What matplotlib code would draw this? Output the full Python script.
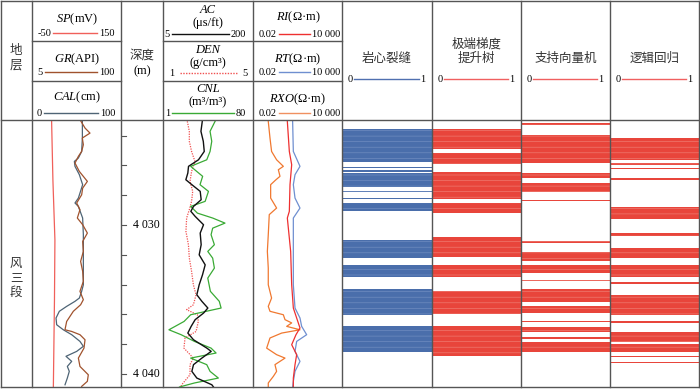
import matplotlib
matplotlib.use('Agg')
import matplotlib.pyplot as plt
import numpy as np

plt.rcParams['font.family'] = ['Liberation Serif', 'Noto Sans CJK SC']
plt.rcParams['mathtext.fontset'] = 'custom'
plt.rcParams['mathtext.rm'] = 'Liberation Serif'
plt.rcParams['mathtext.it'] = 'Liberation Serif:italic'
plt.rcParams['hatch.linewidth'] = 0.5

# ---- data ----
top_depth = 4022.95
bot_depth = 4040.87
depth_ticks = [4024, 4026, 4028, 4030, 4032, 4034, 4036, 4038, 4040]
depth_labels = {4030: '4 030', 4040: '4 040'}

sp_depth = [4022.95, 4027.0, 4031.0, 4035.0, 4040.87]
sp = [-6.0, -3.0, 1.5, 0.5, -2.0]

gr_depth = [4023.04, 4023.49, 4023.83, 4024.16, 4024.61, 4025.06, 4025.39, 4025.84, 4026.40,
            4027.07, 4027.52, 4027.97, 4028.52, 4028.97, 4029.53, 4029.98, 4030.54, 4031.10,
            4031.77, 4032.44, 4033.11, 4033.78, 4034.45, 4035.01, 4035.35, 4035.79, 4036.47,
            4037.03, 4037.14, 4037.36, 4037.70, 4038.26, 4038.93, 4039.49, 4040.05, 4040.49, 4040.83]
gr = [57.3, 61.6, 66.9, 58.7, 59.8, 58.0, 54.5, 50.9, 55.5,
      64.1, 59.1, 58.0, 52.7, 56.2, 53.4, 59.1, 64.1, 59.1,
      59.8, 56.9, 59.1, 59.8, 56.2, 59.8, 56.9, 49.1, 42.0,
      40.2, 47.3, 56.2, 61.6, 60.5, 54.5, 56.2, 65.1, 64.1, 58.0]

cal_depth = [4023.04, 4024.16, 4025.06, 4025.50, 4025.73, 4026.06, 4026.62, 4027.29, 4028.19,
             4028.52, 4028.75, 4029.53, 4030.65, 4031.77, 4032.89, 4034.01, 4034.45, 4034.90,
             4035.12, 4035.46, 4035.79, 4036.24, 4036.69, 4037.03, 4037.36, 4037.81, 4038.14,
             4038.48, 4038.81, 4039.15, 4039.49, 4039.82, 4040.27, 4040.72]
cal = [56.6, 56.6, 55.8, 52.1, 47.6, 48.3, 53.2, 56.9, 52.1,
       48.3, 52.1, 56.9, 57.7, 57.7, 57.7, 57.7, 55.8, 53.2,
       48.3, 38.9, 30.7, 27.0, 27.7, 35.2, 44.6, 53.9, 57.7,
       50.2, 38.2, 44.6, 39.7, 41.9, 39.7, 37.1]

ac_depth = [4023.04, 4023.71, 4024.38, 4025.06, 4025.62, 4026.06, 4026.51, 4026.96, 4027.29,
            4027.74, 4028.30, 4028.75, 4029.08, 4029.42, 4029.98, 4030.54, 4031.32, 4032.00,
            4032.67, 4033.34, 4034.01, 4034.68, 4035.12, 4035.57, 4035.91, 4036.35, 4036.80,
            4037.25, 4037.70, 4038.26, 4038.48, 4038.93, 4039.37, 4039.82, 4040.27, 4040.72, 4040.87]
ac = [90.1, 87.2, 92.3, 94.4, 81.9, 60.3, 58.8, 54.5, 67.5,
      85.6, 87.7, 71.1, 65.3, 74.7, 92.8, 85.6, 87.7, 83.4, 96.4,
      90.6, 83.4, 78.3, 89.2, 102.2, 92.8, 74.7, 66.0, 58.8,
      71.1, 100.0, 109.4, 89.2, 71.1, 67.5, 78.3, 110.8, 114.4]

den_depth = [4023.04, 4023.71, 4024.38, 4025.06, 4025.73, 4026.40, 4027.07, 4027.74, 4028.41,
             4028.97, 4029.53, 4030.43, 4031.32, 4032.22, 4033.11, 4034.01, 4034.68, 4035.35,
             4035.68, 4036.02, 4036.47, 4037.14, 4037.58, 4038.26, 4038.93, 4039.37, 4040.05,
             4040.72, 4040.87]
den = [2.08, 2.17, 2.17, 2.27, 2.42, 2.27, 2.20, 2.32, 2.27,
       2.17, 2.05, 2.02, 2.13, 2.17, 2.27, 2.35, 2.47, 2.35,
       2.05, 2.53, 2.57, 2.47, 1.98, 1.93, 2.35, 2.20, 2.20,
       1.83, 1.79]

cnl_depth = [4023.04, 4023.71, 4024.38, 4025.06, 4025.62, 4026.06, 4026.40, 4026.73, 4027.29,
             4027.74, 4028.41, 4028.75, 4029.20, 4029.53, 4029.87, 4030.21, 4030.65, 4031.32,
             4031.77, 4032.22, 4032.89, 4033.56, 4034.45, 4035.12, 4035.57, 4036.02, 4036.47,
             4037.03, 4037.36, 4037.81, 4038.26, 4038.59, 4038.93, 4039.37, 4039.82, 4040.27,
             4040.60, 4040.87]
cnl = [46.7, 42.3, 43.8, 42.3, 39.4, 25.3, 30.6, 35.8, 33.5,
       40.9, 38.0, 25.3, 31.2, 44.6, 55.4, 44.6, 43.2, 46.1,
       40.3, 44.6, 46.1, 40.3, 42.6, 50.4, 52.0, 25.3, 19.5,
       6.2, 16.9, 28.6, 43.2, 47.6, 25.3, 39.4, 42.3, 49.6,
       28.6, 15.5]

rxo_depth = [4023.04, 4024.16, 4025.06, 4025.62, 4026.06, 4026.29, 4026.73, 4026.96, 4027.29,
             4028.19, 4028.86, 4029.30, 4030.65, 4031.77, 4032.89, 4034.01, 4034.90, 4035.46,
             4035.79, 4036.02, 4036.35, 4036.57, 4036.80, 4037.03, 4037.25, 4037.58, 4038.26,
             4038.70, 4038.93, 4039.37, 4039.82, 4040.16, 4040.60, 4040.87]
rxo = [0.19, 0.245, 0.31, 0.65, 1.75, 0.84, 1.07, 0.59, 0.27,
       0.27, 0.65, 0.22, 0.19, 0.166, 0.19, 0.19, 0.31, 0.19,
       0.245, 1.75, 2.24, 6.0, 2.86, 20.4, 1.37, 0.245, 0.15,
       0.65, 2.24, 0.51, 0.65, 0.40, 0.19, 0.19]

ri_depth = [4023.04, 4025.06, 4025.95, 4027.29, 4029.08, 4029.53, 4031.77, 4034.01, 4035.57,
            4036.24, 4036.91, 4037.36, 4038.03, 4038.70, 4039.37, 4040.27, 4040.87]
ri = [3.16, 4.24, 6.0, 4.68, 4.24, 3.16, 5.16, 6.0, 7.65,
      12.5, 20.4, 11.3, 6.0, 12.5, 9.8, 7.65, 7.65]

rt_depth = [4023.04, 4025.06, 4026.06, 4026.62, 4027.29, 4028.19, 4028.86, 4029.53, 4031.77,
            4034.01, 4035.57, 4036.24, 4036.80, 4037.36, 4037.81, 4038.48, 4039.15, 4039.82,
            4040.49, 4040.87]
rt = [6.9, 7.65, 20.4, 9.8, 7.65, 9.8, 20.4, 7.65, 7.65,
      7.65, 9.8, 20.4, 26.1, 54.6, 12.5, 9.8, 20.4, 9.8,
      7.65, 6.9]

# predicted fracture intervals (top, bottom depth) per method
core_top = [4023.58, 4026.09, 4026.31, 4026.53, 4027.70, 4028.17, 4028.54, 4031.01, 4032.68, 4034.32, 4036.78]
core_bot = [4025.75, 4026.19, 4026.42, 4027.43, 4027.79, 4028.26, 4029.04, 4032.23, 4033.51, 4036.04, 4038.50]

xgb_top = [4023.58, 4025.15, 4026.42, 4028.54, 4030.79, 4032.68, 4034.41, 4036.78]
xgb_bot = [4024.92, 4025.91, 4028.28, 4029.17, 4032.13, 4033.51, 4035.97, 4038.79]

svm_top = [4023.17, 4023.96, 4026.53, 4027.16, 4028.32, 4031.07, 4031.79, 4032.68, 4033.69,
           4034.32, 4035.44, 4036.42, 4036.83, 4037.54, 4037.83]
svm_bot = [4023.29, 4025.86, 4026.85, 4027.77, 4028.41, 4031.23, 4032.40, 4033.24, 4033.78,
           4035.15, 4035.93, 4036.51, 4037.16, 4037.63, 4038.50]

lr_top = [4024.18, 4025.82, 4026.15, 4026.83, 4028.81, 4030.56, 4031.56, 4032.68, 4033.81,
          4034.70, 4036.42, 4037.16, 4037.99, 4038.79, 4039.17]
lr_bot = [4025.64, 4025.97, 4026.24, 4026.98, 4029.62, 4030.74, 4032.23, 4033.47, 4033.96,
          4036.04, 4036.56, 4037.83, 4038.50, 4038.88, 4039.28]

method_names = ['岩心裂缝', '极端梯度\n提升树', '支持向量机', '逻辑回归']

# ---- layout (pixels) ----
W, H = 700, 389
col_x = [1, 32, 121, 163, 253, 342, 432, 521, 610, 699]
row_y = [1, 41, 81, 120]
data_top, data_bot = 120, 387
grid_c = '#555555'

fig = plt.figure(figsize=(W / 100, H / 100), dpi=100)


def add_ax(x0, y0, x1, y1):
    return fig.add_axes([x0 / W, 1 - y1 / H, (x1 - x0) / W, (y1 - y0) / H])


def track(x0, x1, xlim, log=False):
    ax = add_ax(x0, data_top, x1, data_bot)
    ax.patch.set_alpha(0)
    if log:
        ax.set_xscale('log')
    ax.set_xlim(*xlim)
    ax.set_ylim(bot_depth, top_depth)
    ax.axis('off')
    return ax


# curves track 1
a = track(col_x[1], col_x[2], (-50, 150))
a.plot(sp, sp_depth, color='#f0605a', lw=0.9)
a = track(col_x[1], col_x[2], (0, 100))
a.plot(cal, cal_depth, color='#4e6475', lw=0.9)
a = track(col_x[1], col_x[2], (5, 100))
a.plot(gr, gr_depth, color='#a0522d', lw=0.9)

# curves track 2
a = track(col_x[3], col_x[4], (1, 5))
a.plot(den, den_depth, color='#f05050', lw=0.9, ls=(0, (1, 1)))
a = track(col_x[3], col_x[4], (1, 80))
a.plot(cnl, cnl_depth, color='#3aaa35', lw=0.9)
a = track(col_x[3], col_x[4], (5, 200))
a.plot(ac, ac_depth, color='#111111', lw=1.0)

# curves track 3
a = track(col_x[4], col_x[5], (0.02, 10000), log=True)
a.plot(rxo, rxo_depth, color='#f07830', lw=0.9)
a = track(col_x[4], col_x[5], (0.02, 10000), log=True)
a.plot(rt, rt_depth, color='#6f8fd0', lw=0.9)
a = track(col_x[4], col_x[5], (0.02, 10000), log=True)
a.plot(ri, ri_depth, color='#ee3030', lw=0.9)

# prediction tracks
pred = [(core_top, core_bot, '#4a6eab', '#6f8cc0'),
        (xgb_top, xgb_bot, '#e8453b', '#ef7a70'),
        (svm_top, svm_bot, '#e8453b', '#ef7a70'),
        (lr_top, lr_bot, '#e8453b', '#ef7a70')]
for i, (tops, bots, fc, hc) in enumerate(pred):
    a = track(col_x[5 + i], col_x[6 + i], (0, 1))
    tops = np.array(tops)
    bots = np.array(bots)
    a.barh((tops + bots) / 2, 1, height=bots - tops, left=0, color=fc,
           edgecolor=hc, linewidth=0, hatch='---')

# depth ticks
a = track(col_x[3] - 42, col_x[3], (0, 42))
for d in depth_ticks:
    a.plot([0, 5], [d, d], color=grid_c, lw=0.8)
    if d in depth_labels:
        a.text(12, d, depth_labels[d], fontsize=8.5, va='center', ha='left')

# ---- frame and header ----
g = fig.add_axes([0, 0, 1, 1])
g.patch.set_alpha(0)
g.set_xlim(0, W)
g.set_ylim(H, 0)
g.axis('off')

for x in col_x:
    g.plot([x, x], [row_y[0], data_bot], color=grid_c, lw=1.0)
for y in [row_y[0], data_top, data_bot]:
    g.plot([col_x[0], col_x[-1]], [y, y], color=grid_c, lw=1.0)
for y in row_y[1:3]:
    g.plot([col_x[1], col_x[2]], [y, y], color=grid_c, lw=1.0)
    g.plot([col_x[3], col_x[5]], [y, y], color=grid_c, lw=1.0)

cjk = ['Noto Sans CJK SC']
g.text(16, 58, '地\n层', fontsize=9, ha='center', va='center', family=cjk, linespacing=1.15, color='#333333')
g.text(16, 278, '风\n三\n段', fontsize=9, ha='center', va='center', family=cjk, linespacing=1.15, color='#333333')
g.text(142, 55, '深度', fontsize=9, ha='center', va='center', family=cjk, color='#333333')
g.text(142, 71, '(m)', fontsize=9, ha='center', va='center')


def scale_bar(x0, x1, y, left, right, color, ls='-', gap=(2, 2)):
    g.plot([x0, x1], [y, y], color=color, lw=1.0, ls=ls)
    g.text(x0 - gap[0], y, left, fontsize=7.5, ha='right', va='center')
    g.text(x1 + gap[1], y, right, fontsize=7.5, ha='left', va='center')


# track 1 header
g.text(77, 19, '$\\mathit{SP}$(mV)', fontsize=9, ha='center', va='center')
scale_bar(53, 97, 33, '-50', '150', '#f0605a')
g.text(77, 59, '$\\mathit{GR}$(API)', fontsize=9, ha='center', va='center')
scale_bar(45, 97, 72, '5', '100', '#a0522d')
g.text(77, 97, '$\\mathit{CAL}$(cm)', fontsize=9, ha='center', va='center')
scale_bar(44, 98, 113, '0', '100', '#4e6475')

# track 2 header
g.text(208, 10, 'AC', fontsize=9, ha='center', va='center', style='italic')
g.text(208, 23, '(μs/ft)', fontsize=9, ha='center', va='center')
scale_bar(172, 229, 34, '5', '200', '#111111')
g.text(208, 50, 'DEN', fontsize=9, ha='center', va='center', style='italic')
g.text(208, 63, '(g/cm³)', fontsize=9, ha='center', va='center')
scale_bar(180, 237, 73, '1', '5', '#f05050', ls=(0, (1, 1)), gap=(6, 5))
g.text(208, 89, 'CNL', fontsize=9, ha='center', va='center', style='italic')
g.text(208, 102, '(m³/m³)', fontsize=9, ha='center', va='center')
scale_bar(172, 234, 113, '1', '80', '#3aaa35')

# track 3 header
g.text(298, 17, '$\\mathit{RI}$(Ω·m)', fontsize=9, ha='center', va='center')
scale_bar(279, 310, 34, '0.02', '10 000', '#ee3030')
g.text(298, 59, '$\\mathit{RT}$(Ω·m)', fontsize=9, ha='center', va='center')
scale_bar(279, 310, 72, '0.02', '10 000', '#6f8fd0')
g.text(298, 99, '$\\mathit{RXO}$(Ω·m)', fontsize=9, ha='center', va='center')
scale_bar(279, 310, 113, '0.02', '10 000', '#f09060')

# method headers
for i, name in enumerate(method_names):
    x0, x1 = col_x[5 + i], col_x[6 + i]
    xc = (x0 + x1) / 2
    yc = 51 if '\n' in name else 58
    g.text(xc, yc, name, fontsize=9, ha='center', va='center', family=cjk,
           linespacing=1.1, color='#333333')
    c = '#5070b0' if i == 0 else '#f06060'
    scale_bar(x0 + 12, x1 - 13, 79, '0', '1', c, gap=(1, 1))

fig.savefig('out.png', dpi=100)
